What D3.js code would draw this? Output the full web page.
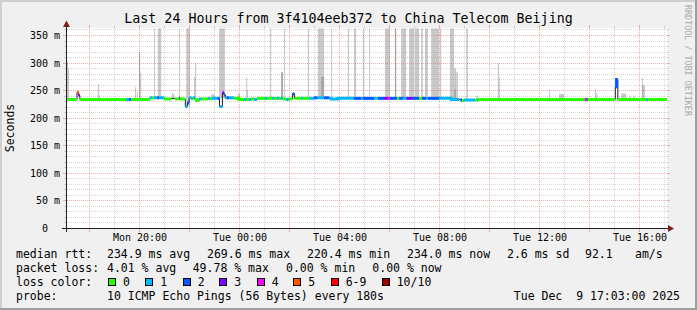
<!DOCTYPE html>
<html>
<head>
<meta charset="utf-8">
<script src="https://cdn.jsdelivr.net/npm/d3@7"></script>
<style>
  body { margin: 0; background: #f0f0f0; }
  svg { display: block; font-family: 'DejaVu Sans Mono', monospace; }
  text { white-space: pre; fill: #000; }
</style>
</head>
<body>
<svg id="chart" width="697" height="310"></svg>
<script>
// median rtt as steps: minutes after Mon 17:06, value in ms, lost pings (null = no colour)
const medianMinutes = [0, 24, 28, 31, 142, 149, 154, 199, 204, 209, 216, 221, 233, 250, 259, 269, 271, 284, 289, 293,
  299, 302, 307, 312, 317, 323, 338, 344, 348, 362, 366, 373, 377, 380, 384, 389, 401, 413, 425, 430,
  437, 442, 449, 456, 475, 480, 492, 497, 504, 509, 514, 518, 526, 532, 541, 546, 562, 566, 581, 593,
  601, 617, 629, 634, 650, 689, 706, 710, 737, 744, 746, 761, 770, 775, 792, 797, 806, 814, 816, 830,
  845, 852, 862, 866, 893, 922, 941, 944, 948, 953, 979, 984, 986, 1243, 1248, 1250, 1316, 1319, 1322, 1390,
  1394]
const medianValues = [234, 247, 241, 234, 234, 234, 234, 237, 237, 237, 237, 237, 235, 236, 235, 236, 235, 221, 228, 237,
  235, 237, 234, 232, 235, 235, 236, 235, 236, 236, 221, 246, 242, 237, 237, 237, 236, 234, 234, 234,
  234, 235, 234, 236, 236, 236, 236, 236, 236, 236, 236, 235, 234, 235, 244, 236, 236, 236, 236, 237,
  237, 237, 236, 235, 236, 236, 236, 236, 236, 236, 236, 236, 236, 236, 236, 236, 236, 236, 236, 236,
  236, 236, 236, 236, 236, 234, 234, 233, 232, 233, 233, 233, 234, 234, 234, 234, 257, 270, 234, 234,
  234]
const medianLoss = [0, 5, 3, 0, 1, 2, 0, 1, 0, 1, 2, 1, 0, null, 0, 3, 0, 1, 2, 1,
  0, 1, 0, 0, 1, 0, 1, 0, 1, 2, 1, 3, 2, 1, 2, 1, 0, 0, 1, 0,
  1, 0, 1, 0, 1, 0, 1, 0, 1, 0, 1, 0, 1, 0, 2, 0, 1, 0, 1, 2,
  1, 2, 1, 1, 1, 2, 1, 2, 1, 0, 2, 3, 4, 2, 0, 2, 1, 2, 3, 2,
  0, 2, 1, 2, 1, 1, null, 2, 0, 1, 0, 1, 0, 4, 2, 0, 2, 2, 0, 1,
  0]
const endMinute = 1440

// smoke: from / to (minutes), highest ping (ms), darker inner ping (ms)
const smokeFrom = [0, 2, 74, 77, 163, 168, 173, 175, 209, 218, 252, 269, 286, 305, 307, 346, 365, 410, 430, 432,
  487, 514, 521, 578, 602, 610, 634, 674, 689, 710, 725, 763, 787, 802, 821, 835, 850, 859, 874, 895,
  919, 929, 934, 958, 982, 1034, 1037, 1157, 1181, 1267, 1270, 1330, 1349, 1358, 1380, 1382]
const smokeTo = [2, 5, 77, 79, 166, 170, 175, 178, 211, 226, 257, 271, 295, 307, 310, 355, 379, 415, 432, 434,
  490, 518, 523, 581, 610, 617, 636, 677, 694, 713, 727, 775, 790, 814, 833, 845, 854, 866, 893, 898,
  929, 934, 938, 962, 986, 1037, 1039, 1159, 1193, 1270, 1273, 1342, 1353, 1363, 1382, 1387]
const smokeMax = [303, 290, 262, 242, 256, 248, 320, 282, 370, 370, 245, 370, 370, 274, 300, 243, 370, 245, 274, 251,
  370, 283, 370, 370, 370, 370, 370, 370, 370, 370, 370, 370, 370, 370, 370, 370, 370, 370, 370, 370,
  370, 290, 283, 370, 241, 300, 273, 252, 244, 253, 245, 245, 239, 239, 273, 260]
const smokeInner = [null, null, null, null, null, null, 320, null, null, null, null, null, null, null, null, null, null, null, null, null,
  null, 283, null, null, null, 275, null, null, null, null, null, null, 370, null, null, null, null, null, null, null,
  null, 252, null, null, null, null, null, null, null, null, null, null, null, null, 260, null]

const yTickValues = [0, 50, 100, 150, 200, 250, 300, 350]
const lossLabels = ['0', '1', '2', '3', '4', '5', '6-9', '10/10']
const lossColors = ['#26ff00', '#00b8ff', '#0059ff', '#7e00ff', '#ff00ff', '#ff5500', '#ff0000', '#a10000']
const rttStats = ['234.9 ms avg', '269.6 ms max', '220.4 ms min', '234.0 ms now', '2.6 ms sd', '92.1', 'am/s']
const lossStats = ['4.01 % avg', '49.78 % max', '0.00 % min', '0.00 % now']

const svg = d3.select('#chart')
const W = 697, H = 310

const start = new Date(2025, 11, 8, 17, 6)
const end = d3.timeDay.offset(start, 1)
const toDate = (m) => d3.timeMinute.offset(start, m)

let x = d3.scaleTime().domain([start, end]).range([67, 667])
let y = d3.scaleLinear().domain([0, 362.7]).range([228.5, 28.5]).clamp(true)
const crisp = (v) => Math.round(v - 0.5) + 0.5

// background + 3d frame
svg.append('rect').attr('width', W).attr('height', H).attr('fill', '#f0f0f0')
svg.append('path').attr('d', `M0,${H} V0 H${W}`).attr('stroke', '#cfcfcf').attr('stroke-width', 4).attr('fill', 'none')
svg.append('path').attr('d', `M0,${H} H${W} V0`).attr('stroke', '#9e9e9e').attr('stroke-width', 4).attr('fill', 'none')
svg.append('rect').attr('x', 67).attr('y', 28).attr('width', 600).attr('height', 200).attr('fill', '#fff')

// smoke
let medianAt = (m) => {
    let i = d3.bisectRight(medianMinutes, m) - 1
    return medianValues[Math.max(i, 0)]
}
let smoke = svg.append('g')
smokeFrom.forEach((s, i) => {
    let base = medianAt(s)
    let x0 = x(toDate(s)), x1 = x(toDate(smokeTo[i]))
    smoke.append('rect')
        .attr('x', x0).attr('width', Math.max(x1 - x0, 1))
        .attr('y', y(smokeMax[i])).attr('height', y(base) - y(smokeMax[i]))
        .attr('fill', '#c8c8c8')
    if (smokeInner[i] != null) {
        smoke.append('rect')
            .attr('x', x0).attr('width', Math.max(x1 - x0, 1))
            .attr('y', y(smokeInner[i])).attr('height', y(base) - y(smokeInner[i]))
            .attr('fill', '#a6a6a6')
    }
})

// grid
let grid = svg.append('g').attr('fill', 'none').attr('stroke-width', 1)
let minorCol = 'rgba(143,143,143,0.35)'
let majorCol = 'rgba(222,81,81,0.45)'
d3.range(10, 361, 10).forEach((v) => {
    let yy = crisp(y(v))
    let major = v % 50 === 0
    grid.append('line').attr('x1', 67).attr('x2', 667).attr('y1', yy).attr('y2', yy)
        .attr('stroke', major ? majorCol : minorCol).attr('stroke-dasharray', '1,1')
    let t = major ? 3 : 2
    grid.append('line').attr('x1', 66 - t).attr('x2', 66).attr('y1', yy).attr('y2', yy).attr('stroke', major ? majorCol : minorCol)
    grid.append('line').attr('x1', 667).attr('x2', 667 + t).attr('y1', yy).attr('y2', yy).attr('stroke', major ? majorCol : minorCol)
})
x.ticks(d3.timeHour.every(1)).forEach((t) => {
    let xx = crisp(x(t))
    let major = t.getHours() % 2 === 0
    grid.append('line').attr('x1', xx).attr('x2', xx).attr('y1', 28).attr('y2', 228)
        .attr('stroke', major ? majorCol : minorCol).attr('stroke-dasharray', '1,1')
    let tl = major ? 3 : 2
    grid.append('line').attr('x1', xx).attr('x2', xx).attr('y1', 229).attr('y2', 229 + tl).attr('stroke', major ? majorCol : minorCol)
    grid.append('line').attr('x1', xx).attr('x2', xx).attr('y1', 28 - tl).attr('y2', 28).attr('stroke', major ? majorCol : minorCol)
})

// median rtt: thin dark step line, then loss coloured strokes
let medPts = medianMinutes.map((m, i) => [toDate(m), medianValues[i]])
medPts.push([toDate(endMinute), medianValues[medianValues.length - 1]])
let stepLine = d3.line().x(d => x(d[0])).y(d => y(d[1])).curve(d3.curveStepAfter)
svg.append('path').attr('d', stepLine(medPts)).attr('fill', 'none').attr('stroke', '#202020').attr('stroke-width', 1)

let runs = []
medianLoss.forEach((l, i) => {
    if (l == null) return
    let last = runs[runs.length - 1]
    if (last && last.loss === l && last.end === i) {
        last.end = i + 1
    } else {
        runs.push({ loss: l, begin: i, end: i + 1 })
    }
})
runs.forEach((r) => {
    let pts = medPts.slice(r.begin, r.end)
    pts.push([medPts[r.end][0], medianValues[r.end - 1]])
    let ci = r.loss >= 10 ? 7 : (r.loss >= 6 ? 6 : r.loss)
    svg.append('path').attr('d', stepLine(pts)).attr('fill', 'none')
        .attr('stroke', lossColors[ci]).attr('stroke-width', 3)
})

// axes + arrows
svg.append('line').attr('x1', 62).attr('x2', 669).attr('y1', 228.5).attr('y2', 228.5).attr('stroke', '#1f1f1f')
svg.append('line').attr('x1', 66.5).attr('x2', 66.5).attr('y1', 232).attr('y2', 25).attr('stroke', '#1f1f1f')
svg.append('path').attr('d', 'M668,225 L674,228.5 L668,232 Z').attr('fill', '#7f1f1f')
svg.append('path').attr('d', 'M63,27 L66.5,20.5 L70,27 Z').attr('fill', '#7f1f1f')

// tick labels
svg.append('g').selectAll('text').data(yTickValues).enter().append('text')
    .attr('x', 60).attr('y', d => crisp(y(d)) + 3.5)
    .attr('text-anchor', 'end').style('font-size', '10px')
    .text(d => d === 0 ? '0  ' : d + ' m')
svg.append('g').selectAll('text').data(x.ticks(d3.timeHour.every(4))).enter().append('text')
    .attr('x', d => x(d) + 0.5).attr('y', 240.5)
    .attr('text-anchor', 'middle').style('font-size', '10px')
    .text(d => d3.timeFormat('%a %H:%M')(d))

// title, y label, watermark
svg.append('text').attr('x', 348.5).attr('y', 23).attr('text-anchor', 'middle').style('font-size', '13.3px')
    .text('Last 24 Hours from 3f4104eeb372 to China Telecom Beijing')
svg.append('text').attr('transform', 'translate(14,128) rotate(-90)').attr('text-anchor', 'middle')
    .style('font-size', '11.5px').text('Seconds')
svg.append('text').attr('transform', 'translate(685,5) rotate(90)').style('font-size', '8.4px')
    .style('fill', '#a8a8a8').text('RRDTOOL / TOBI OETIKER')

// legend
let legend = svg.append('g').style('font-size', '11.5px')
legend.append('text').attr('x', 16).attr('y', 257.5).text('median rtt:')
let rttX = [107, 207, 307, 407, 507, 585, 635]
rttStats.forEach((s, i) => legend.append('text').attr('x', rttX[i]).attr('y', 257.5).text(s))
legend.append('text').attr('x', 16).attr('y', 271.7).text('packet loss:')
let lossX = [107, 192.7, 286, 372.3]
lossStats.forEach((s, i) => legend.append('text').attr('x', lossX[i]).attr('y', 271.7).text(s))
legend.append('text').attr('x', 16).attr('y', 285.8).text('loss color:')
let boxX = [108, 145.3, 182.7, 219.3, 256.7, 293.3, 330.7, 381.7]
lossLabels.forEach((l, i) => {
    legend.append('rect').attr('x', Math.round(boxX[i]) + 0.5).attr('y', 278.5).attr('width', 7).attr('height', 7)
        .attr('fill', lossColors[i]).attr('stroke', '#000')
    legend.append('text').attr('x', boxX[i] + 15).attr('y', 285.8).text(l)
})
legend.append('text').attr('x', 16).attr('y', 300).text('probe:')
legend.append('text').attr('x', 107).attr('y', 300).text('10 ICMP Echo Pings (56 Bytes) every 180s')
legend.append('text').attr('x', 680).attr('y', 300).attr('text-anchor', 'end').text('Tue Dec  9 17:03:00 2025')
</script>
</body>
</html>
